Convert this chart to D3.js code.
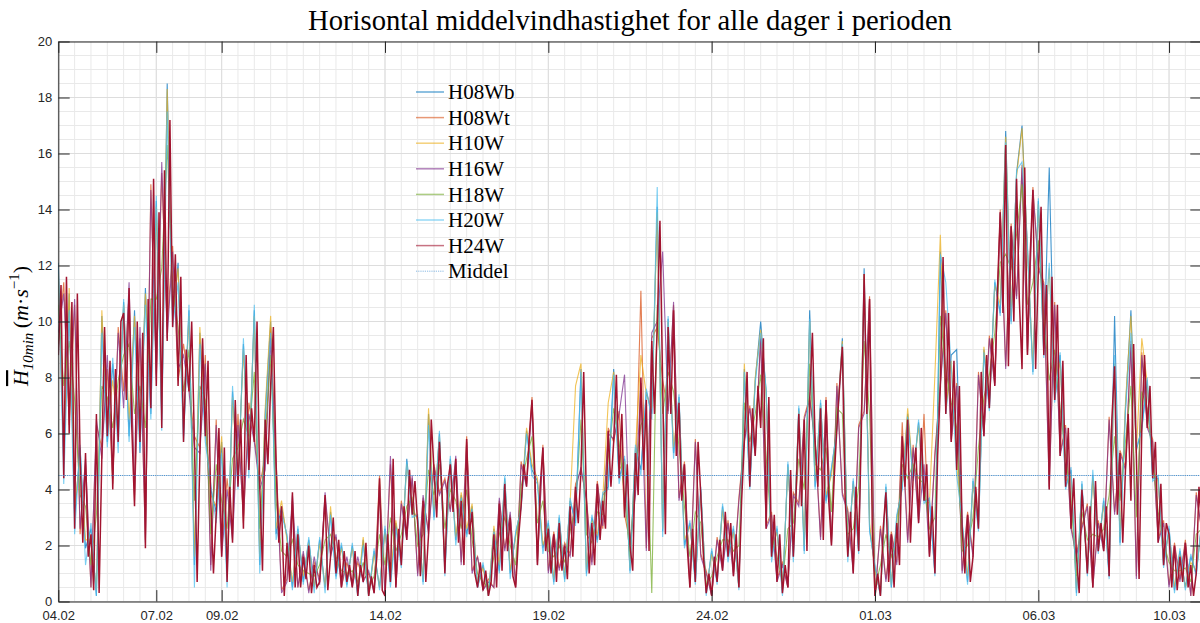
<!DOCTYPE html>
<html>
<head>
<meta charset="utf-8">
<script src="https://cdn.jsdelivr.net/npm/d3@7"></script>
<style>
  body { margin: 0; background: #fff; }
  svg { display: block; }
</style>
</head>
<body>
<svg id="chart" width="1200" height="623"></svg>
<script>
// Period covered by the measurements
const periodStart = Date.UTC(2023, 1, 4);
const periodEnd = Date.UTC(2023, 2, 11);

const xTickLabels = ["04.02", "07.02", "09.02", "14.02", "19.02", "24.02", "01.03", "06.03", "10.03"];
const yTickValues = [0, 2, 4, 6, 8, 10, 12, 14, 16, 18, 20];

const seriesNames = ["H08Wb", "H08Wt", "H10W", "H16W", "H18W", "H20W", "H24W"];
const seriesColors = ["#0072BD", "#D95319", "#EDB120", "#7E2F8E", "#77AC30", "#4DBEEE", "#A2142F"];
const middelValue = 4.5;

// H24W, one value every 2 hours (12 per day)
const h24wStepHours = 2;
const h24w = [
  8.8,11.3,4.4,11.6,6.0,10.7,2.6,11.0,5.2,2.1,5.3,1.6,
  2.4,0.4,6.7,0.3,5.2,9.8,5.9,8.6,4.0,8.3,5.7,10.0,
  10.3,7.2,11.2,6.2,3.4,10.0,5.7,9.6,1.9,10.8,6.9,15.1,
  7.7,13.9,6.2,15.4,9.3,17.2,9.8,12.4,7.7,11.6,5.7,9.0,
  7.5,10.0,5.7,0.7,5.2,9.4,5.9,8.6,3.6,1.0,3.1,6.2,
  1.6,5.5,0.7,4.1,2.1,7.2,4.1,6.5,2.6,8.8,4.7,6.9,
  5.7,10.0,4.1,1.1,6.5,4.9,7.7,9.8,4.9,2.1,3.4,0.2,
  2.1,0.7,3.9,0.5,2.4,0.5,1.6,0.8,2.0,0.3,1.3,0.5,
  0.7,2.0,3.8,0.4,1.6,3.0,1.0,2.2,0.5,1.8,0.7,1.3,
  0.5,1.8,0.2,1.3,0.7,2.1,0.2,0.9,0.3,1.6,4.4,0.4,
  0.2,2.4,0.7,5.1,0.5,2.6,1.3,3.4,2.2,4.7,3.1,4.3,
  2.8,0.9,3.6,0.7,2.4,6.5,4.7,3.0,5.7,3.8,1.0,4.2,
  4.9,3.2,5.1,2.1,3.6,1.3,5.8,2.4,3.2,1.0,0.5,1.4,
  0.4,1.1,0.2,0.7,2.4,0.5,3.5,1.1,4.2,1.8,3.0,0.9,
  0.5,2.2,3.4,4.9,4.1,5.9,7.2,4.7,1.3,4.1,5.5,1.8,
  2.6,1.0,2.4,0.7,2.8,1.1,2.0,0.8,3.4,1.6,4.1,2.8,
  4.7,8.2,3.6,1.0,2.8,1.3,4.2,2.2,3.6,2.6,6.1,4.1,
  5.7,8.1,4.4,6.7,3.0,4.9,2.0,1.1,5.3,3.8,8.0,4.7,
  7.2,1.8,9.3,6.7,9.8,13.6,7.7,2.4,9.8,6.7,10.4,5.2,
  7.1,3.6,4.9,2.0,0.5,2.6,0.7,5.7,3.8,1.6,0.3,1.0,
  0.2,1.6,0.7,2.2,1.1,3.2,1.6,2.8,0.9,2.4,0.5,3.6,
  5.7,8.2,4.1,6.9,5.2,7.7,6.2,9.4,2.6,7.3,1.6,3.1,
  0.7,2.4,0.3,1.3,0.5,4.7,1.6,3.8,6.7,3.4,6.5,1.8,
  7.2,9.6,5.7,4.1,6.9,2.2,7.2,3.6,2.0,4.4,6.2,7.7,
  9.1,3.8,1.6,3.2,1.0,4.1,1.8,6.2,11.7,6.7,10.8,2.6,
  0.2,1.0,0.2,2.6,3.9,0.7,2.4,0.5,2.8,1.3,5.9,4.1,
  6.5,2.1,4.4,5.5,2.8,6.2,3.6,4.9,1.6,3.4,1.0,5.2,
  7.7,12.3,6.7,10.3,5.7,8.6,4.7,7.7,2.6,1.0,3.1,0.7,
  1.6,4.1,2.6,8.2,5.9,8.8,6.9,9.4,7.7,11.2,13.9,10.3,
  16.3,8.4,13.4,10.0,15.1,10.8,8.3,15.5,8.8,12.4,14.7,8.3,
  11.9,14.1,8.8,11.3,4.0,11.6,7.2,10.6,5.2,8.6,4.1,6.2,
  2.6,4.4,1.6,0.3,4.0,2.6,1.0,3.4,0.5,4.3,1.8,2.8,
  1.8,3.4,0.9,6.5,8.4,3.1,5.3,2.1,4.7,6.7,3.6,9.2,
  5.2,0.8,6.2,8.8,6.2,7.7,4.4,5.7,2.1,4.2,1.3,2.8,
  2.4,0.5,2.0,0.4,1.6,0.7,2.1,0.5,1.3,0.2,1.0,4.1,
  2.6
];

// The other heights, one value every 4 hours (6 per day)
const otherStepHours = 4;
const h08wb = [
  12.1,4.9,11.0,3.0,5.5,1.9,  2.6,0.2,10.2,5.7,8.5,5.9,  10.7,5.9,10.4,5.3,11.2,6.7,
  14.3,6.5,18.5,10.0,12.1,5.9,  10.4,1.3,9.6,6.1,4.0,3.2,  5.7,0.9,7.5,4.2,9.2,4.7,
  10.4,1.3,6.7,10.0,2.4,3.4,  2.3,0.5,2.6,0.7,2.2,0.5,  2.2,0.5,3.2,0.9,2.0,0.6,
  2.0,0.2,2.2,0.2,1.8,0.5,  2.6,0.7,2.8,1.4,5.1,3.2,  3.0,0.7,6.7,3.0,6.0,1.1,
  5.1,2.2,3.8,2.4,3.4,0.5,  1.3,0.2,2.6,1.1,4.4,1.0,  2.4,3.4,6.1,4.7,4.3,1.9,
  2.8,0.7,3.0,0.8,3.6,2.8,  8.3,1.0,3.0,2.2,3.8,4.1,  8.3,4.4,5.1,1.1,5.5,4.7,
  7.5,6.7,14.1,2.5,10.1,5.3,  7.3,2.0,2.8,0.7,4.0,0.3,  1.8,0.7,3.4,1.6,2.6,0.5,
  8.3,4.1,7.9,10.0,7.5,1.6,  2.6,0.3,4.9,1.6,6.9,1.8,  10.4,4.1,7.1,3.6,4.7,6.2,
  9.4,1.6,4.3,1.8,11.9,2.6,  1.2,0.2,4.1,0.5,3.0,4.1,  6.7,4.4,6.4,3.6,3.6,1.0,
  12.5,6.7,8.8,9.0,2.8,0.7,  4.3,2.6,9.0,6.9,11.4,10.3,  16.8,10.0,15.3,17.0,12.6,8.2,
  14.3,8.8,15.5,7.2,8.8,4.1,  4.7,0.3,4.2,1.0,4.5,1.8,  3.6,0.9,10.2,2.1,6.9,10.4,
  5.4,6.2,7.9,4.4,4.4,1.3,  2.6,0.4,1.8,0.5,1.6,1.0,
  2.8
];
const h08wt = [
  9.2,11.4,6.3,10.6,2.4,4.9,  0.5,6.3,5.5,8.3,4.2,9.8,  7.5,11.0,3.6,9.4,2.2,14.9,
  8.1,15.3,9.8,12.7,7.9,9.2,  7.7,5.9,5.5,8.8,1.3,6.5,  1.8,4.4,2.4,6.7,2.8,7.1,
  5.9,4.2,5.1,9.8,5.1,0.4,  0.8,3.6,0.5,1.7,0.4,1.4,  0.8,3.7,1.7,2.3,0.5,1.4,
  0.6,1.4,0.8,1.0,0.4,4.5,  0.3,4.9,0.6,3.6,2.3,4.4,  1.0,3.7,2.5,4.9,3.9,4.4,
  3.3,5.0,1.4,5.9,1.1,1.6,  0.4,0.8,0.5,3.6,1.9,3.1,  0.6,5.0,4.2,7.3,1.4,5.6,
  1.1,2.5,1.2,2.1,1.7,4.2,  4.7,3.7,1.4,4.3,2.6,6.2,  5.7,6.8,3.1,2.1,3.9,11.1,
  1.9,9.4,9.8,7.9,6.8,10.6,  3.7,5.0,0.5,5.8,1.7,1.1,  0.2,2.3,1.2,2.9,1.0,3.7,
  5.8,7.0,5.3,9.5,2.7,3.2,  0.8,1.4,0.5,3.9,3.5,6.6,  7.3,5.8,2.3,7.3,2.1,7.8,
  3.9,3.3,1.1,6.3,6.8,10.9,  0.2,2.7,0.8,2.5,1.4,6.4,  2.2,5.6,2.9,6.7,1.7,5.3,
  7.8,10.4,5.8,7.8,1.1,3.2,  1.7,8.2,6.0,9.5,7.8,14.0,  8.4,13.5,10.9,15.6,8.9,14.8,
  12.0,11.4,4.1,10.7,5.3,6.3,  2.7,1.7,2.7,3.5,0.5,2.9,  1.9,6.6,3.2,5.4,4.8,9.3,
  0.9,8.9,6.3,5.8,2.2,2.9,  0.6,2.1,0.8,2.2,0.2,3.9,
  2.5
];
const h10w = [
  11.7,5.3,11.2,3.4,5.1,2.2,  2.2,0.4,10.4,6.1,7.9,6.2,  10.6,6.5,10.2,5.9,11.0,7.3,
  14.1,6.7,18.3,10.2,11.9,6.2,  10.2,1.6,9.8,6.3,3.8,3.4,  5.9,1.1,7.3,4.4,9.0,5.1,
  10.2,1.6,6.9,10.2,2.6,3.6,  2.2,0.7,2.5,0.9,2.1,0.5,  2.1,0.5,3.4,1.1,1.9,0.8,
  1.9,0.4,2.3,0.2,1.7,0.5,  2.5,0.9,2.9,1.6,4.9,3.4,  2.9,0.8,6.9,3.2,5.9,1.3,
  5.0,2.3,3.9,2.6,3.5,0.6,  1.2,0.2,2.7,1.3,4.3,1.1,  2.3,3.5,6.2,4.9,4.4,2.0,
  2.7,0.8,2.9,0.9,3.5,7.7,  8.5,1.1,2.9,2.4,3.7,7.1,  8.2,4.7,5.0,1.2,5.4,8.8,
  7.4,6.9,13.9,2.6,10.0,5.5,  7.2,2.2,2.7,0.9,3.9,0.4,  1.7,0.8,3.3,1.7,2.5,0.5,
  8.5,4.3,8.0,9.7,7.4,1.8,  2.5,0.4,4.8,1.8,6.8,2.0,  10.0,4.3,7.0,3.8,4.5,6.3,
  9.3,1.7,4.2,2.0,11.7,2.8,  1.1,0.3,4.0,0.6,2.9,4.2,  6.9,4.5,6.3,3.7,3.5,8.1,
  13.1,6.9,8.6,4.9,2.7,0.9,  4.2,2.8,9.1,7.1,11.3,10.6,  16.6,10.2,15.2,16.9,12.5,8.4,
  14.2,9.0,11.9,7.4,8.6,4.3,  4.5,0.4,4.1,1.1,4.4,1.9,  3.5,1.1,8.5,2.3,7.1,10.2,
  5.3,9.4,7.8,4.7,4.3,1.4,  2.5,0.5,1.7,0.5,1.4,1.1,
  2.7
];
const h16w = [
  9.6,11.0,6.7,10.8,2.6,5.1,  0.5,6.5,5.1,8.8,4.4,9.6,  6.9,11.4,3.8,9.8,2.1,14.7,
  7.9,15.7,9.4,12.5,8.3,8.8,  7.5,5.5,5.3,8.5,1.1,6.3,  1.6,4.0,2.2,6.3,3.0,6.7,
  5.7,4.0,4.7,9.4,4.7,0.3,  0.7,3.8,0.5,1.8,0.3,1.6,  0.6,3.9,1.6,2.4,0.5,1.6,
  0.5,1.6,0.7,1.1,0.3,4.2,  0.2,5.2,0.5,3.5,2.2,4.5,  0.9,3.8,2.4,4.8,3.8,4.3,
  3.2,5.2,1.3,5.7,1.0,1.6,  0.4,0.7,0.5,3.7,1.8,3.2,  0.5,4.9,4.1,7.1,1.3,5.5,
  1.0,2.4,1.1,2.0,1.6,4.0,  4.8,3.6,1.3,4.2,2.7,6.0,  5.8,6.7,8.1,2.0,3.8,7.8,
  1.8,9.6,10.0,12.5,6.7,10.7,  3.6,4.9,0.5,5.7,1.6,1.0,  0.2,2.2,1.1,2.8,0.9,3.6,
  5.7,6.9,5.2,9.4,2.6,3.1,  0.7,1.3,0.5,3.8,3.4,6.5,  7.2,5.7,2.2,7.2,2.0,7.7,
  3.8,3.2,1.0,6.2,6.7,10.8,  0.2,2.6,0.7,2.4,1.3,5.9,  2.1,5.5,2.8,4.9,1.6,5.2,
  7.7,10.3,5.7,7.7,1.0,3.1,  1.6,8.1,5.9,9.4,7.7,13.9,  8.3,13.4,10.8,15.5,8.8,14.7,
  11.9,11.3,4.0,10.6,5.2,6.2,  2.6,1.6,2.6,3.4,0.5,2.8,  1.8,6.5,3.1,5.3,4.7,9.2,
  0.8,8.8,6.2,5.7,2.1,2.8,  0.5,2.0,0.7,2.1,0.2,3.8,
  2.6
];
const h18w = [
  10.6,7.7,9.3,7.2,3.8,3.4,  1.3,3.1,7.7,7.3,6.2,7.9,  8.8,9.2,6.7,7.7,6.2,10.8,
  10.8,11.9,16.3,11.3,9.8,7.5,  9.0,3.6,7.7,7.2,2.4,4.9,  3.6,2.6,5.1,5.5,6.5,5.9,
  8.2,2.6,5.9,8.8,3.6,1.8,  1.6,2.2,1.3,1.1,1.0,0.9,  1.3,2.2,2.4,1.6,1.1,1.0,
  1.1,0.7,1.4,0.5,0.9,2.4,  1.3,3.0,1.8,2.4,3.4,3.7,  2.0,2.4,4.7,3.8,4.9,2.6,
  4.0,3.6,2.6,4.0,2.2,1.0,  0.7,0.5,1.6,2.4,3.0,2.0,  1.3,4.1,5.1,5.9,2.8,3.6,
  1.8,1.6,2.0,1.4,2.5,3.4,  6.5,2.4,2.1,3.2,3.1,5.1,  6.9,5.7,3.8,1.6,4.7,6.3,
  6.7,0.3,10.6,6.7,8.2,7.5,  5.5,3.4,1.6,3.2,2.8,0.6,  0.9,1.6,2.2,2.2,1.8,2.0,
  7.1,5.7,6.7,8.1,5.2,2.4,  1.6,0.7,2.6,2.8,5.1,4.0,  8.5,4.9,4.7,5.5,3.2,6.9,
  6.7,2.4,2.6,4.1,9.3,6.7,  0.5,1.3,2.4,1.6,2.2,4.9,  4.4,4.9,4.4,4.2,2.6,3.0,
  10.2,8.3,7.1,6.2,1.8,2.0,  3.0,5.5,7.3,8.1,9.6,12.1,  12.4,11.9,13.1,14.9,10.6,11.4,
  12.9,10.2,7.9,9.0,6.9,5.2,  3.6,0.9,3.2,2.2,2.4,2.3,  2.6,3.8,5.9,3.6,5.7,7.7,
  3.0,7.5,6.9,5.1,3.2,2.1,  1.4,1.1,1.1,1.2,0.7,2.4,
  2.6
];
const h20w = [
  11.9,4.2,10.4,2.4,5.6,1.3,  2.8,0.2,9.6,5.5,8.7,5.3,  10.8,5.7,9.8,5.5,10.6,6.5,
  14.5,6.1,17.5,9.8,11.4,5.7,  10.6,0.5,9.2,5.7,4.2,2.8,  5.3,0.5,7.7,4.0,9.4,4.4,
  10.6,1.0,6.5,9.6,2.2,3.1,  2.4,0.4,2.7,0.6,2.3,0.3,  2.3,0.3,3.1,0.8,2.1,0.5,
  2.1,0.2,2.0,0.2,1.9,0.4,  2.7,0.5,2.6,1.2,5.0,3.0,  3.1,0.6,6.3,2.9,6.1,0.9,
  5.2,2.0,3.7,2.3,3.3,0.5,  1.4,0.2,2.5,1.0,4.5,0.8,  2.5,3.3,6.0,4.5,4.2,1.7,
  2.9,0.6,3.1,0.7,3.7,2.7,  8.2,0.9,3.1,2.1,3.9,4.0,  8.1,4.2,5.2,1.0,5.6,4.5,
  7.6,6.5,14.8,2.3,10.2,5.1,  7.4,1.9,2.9,0.6,4.1,0.2,  1.9,0.6,3.5,1.4,2.7,0.4,
  8.2,4.0,7.8,9.6,7.6,1.4,  2.7,0.2,5.0,1.4,7.0,1.7,  10.1,4.0,7.2,3.5,4.8,6.1,
  9.2,1.4,4.4,1.7,11.4,2.5,  1.3,0.2,4.2,0.5,3.1,4.0,  6.6,4.3,6.5,3.5,3.7,0.9,
  12.4,11.4,8.4,4.5,2.9,0.6,  4.4,2.5,8.9,6.8,11.5,10.2,  16.4,9.9,15.4,15.7,12.7,8.1,
  14.4,8.7,12.1,7.1,8.9,4.0,  4.8,0.2,4.3,0.9,4.7,1.7,  3.7,0.8,8.8,2.0,6.8,9.6,
  5.5,6.1,8.0,4.3,4.5,1.2,  2.7,0.3,1.9,0.4,1.7,0.9,
  2.9
];

const seriesValues = [h08wb, h08wt, h10w, h16w, h18w, h20w, h24w];
const seriesSteps = [otherStepHours, otherStepHours, otherStepHours, otherStepHours, otherStepHours, otherStepHours, h24wStepHours];

const svg = d3.select("#chart");
const plot = { left: 58.3, right: 1201.7, top: 41.5, bottom: 601.5 };

const x = d3.scaleUtc().domain([periodStart, periodEnd]).range([plot.left, plot.right]);
const y = d3.scaleLinear().domain([0, 20]).range([plot.bottom, plot.top]);

svg.append("rect").attr("width", 1200).attr("height", 623).attr("fill", "#fff");

// Grid: minor lines every 12 h and every 0.5 m/s, major at the labelled ticks
const grid = svg.append("g");
const minorX = d3.utcHour.every(12).range(new Date(periodStart), new Date(periodEnd));
grid.selectAll("line.mx").data(minorX).join("line")
  .attr("x1", d => x(d)).attr("x2", d => x(d))
  .attr("y1", plot.top).attr("y2", plot.bottom)
  .attr("stroke", "#e9e9e9").attr("stroke-width", 1);
grid.selectAll("line.my").data(d3.range(0.5, 20, 0.5)).join("line")
  .attr("x1", plot.left).attr("x2", plot.right)
  .attr("y1", d => y(d)).attr("y2", d => y(d))
  .attr("stroke", "#e9e9e9").attr("stroke-width", 1);

const parseTick = d3.utcParse("%d.%m.%Y");
const xTickDates = xTickLabels.map(s => parseTick(s + ".2023"));
grid.selectAll("line.gx").data(xTickDates).join("line")
  .attr("x1", d => x(d)).attr("x2", d => x(d))
  .attr("y1", plot.top).attr("y2", plot.bottom)
  .attr("stroke", "#dddddd").attr("stroke-width", 1);
grid.selectAll("line.gy").data(yTickValues).join("line")
  .attr("x1", plot.left).attr("x2", plot.right)
  .attr("y1", d => y(d)).attr("y2", d => y(d))
  .attr("stroke", "#dddddd").attr("stroke-width", 1);

// Data
svg.append("clipPath").attr("id", "plotClip").append("rect")
  .attr("x", plot.left).attr("y", plot.top)
  .attr("width", plot.right - plot.left).attr("height", plot.bottom - plot.top);

const line = d3.line().x(d => x(d[0])).y(d => y(d[1]));
const dataLayer = svg.append("g").attr("clip-path", "url(#plotClip)");
seriesValues.forEach((vals, i) => {
  const step = seriesSteps[i] * 3600e3;
  const pts = vals.map((v, k) => [periodStart + k * step, v]);
  const isTop = i === 6;
  dataLayer.append("path")
    .attr("d", line(pts))
    .attr("fill", "none")
    .attr("stroke", seriesColors[i])
    .attr("stroke-width", isTop ? 1.5 : 1.1)
    .attr("stroke-opacity", isTop ? 1 : 0.75)
    .attr("stroke-linejoin", "miter");
});
dataLayer.append("line")
  .attr("x1", plot.left).attr("x2", plot.right)
  .attr("y1", y(middelValue)).attr("y2", y(middelValue))
  .attr("stroke", "#3b8bd0").attr("stroke-width", 1)
  .attr("stroke-dasharray", "1.2,1").attr("stroke-opacity", 0.9);

// Axes (ticks pointing inwards, box on)
const tickLen = 11.4;
const axisColor = "#262626";
const styleAxis = g => {
  g.selectAll(".domain").attr("stroke", axisColor).attr("stroke-width", 1);
  g.selectAll(".tick line").attr("stroke", axisColor).attr("stroke-width", 1);
  g.selectAll("text").attr("fill", axisColor)
    .style("font-family", "'Liberation Sans', Arial, sans-serif").style("font-size", "13px");
};
svg.append("g").attr("transform", `translate(0,${plot.bottom})`)
  .call(d3.axisBottom(x).tickValues(xTickDates).tickFormat(d3.utcFormat("%d.%m"))
    .tickSizeInner(-tickLen).tickSizeOuter(0).tickPadding(9))
  .call(styleAxis);
svg.append("g").attr("transform", `translate(0,${plot.top})`)
  .call(d3.axisTop(x).tickValues(xTickDates).tickFormat("")
    .tickSizeInner(-tickLen).tickSizeOuter(0))
  .call(styleAxis);
svg.append("g").attr("transform", `translate(${plot.left},0)`)
  .call(d3.axisLeft(y).tickValues(yTickValues).tickFormat(d3.format("d"))
    .tickSizeInner(-tickLen).tickSizeOuter(0).tickPadding(6))
  .call(styleAxis);
svg.append("g").attr("transform", `translate(${plot.right},0)`)
  .call(d3.axisRight(y).tickValues(yTickValues).tickFormat("")
    .tickSizeInner(-tickLen).tickSizeOuter(0))
  .call(styleAxis);

// Title
const title = svg.append("text")
  .attr("x", (plot.left + plot.right) / 2).attr("y", 30)
  .attr("text-anchor", "middle")
  .style("font-family", "'Liberation Serif', 'Times New Roman', serif")
  .style("font-size", "25px").attr("fill", "#000")
  .text("Horisontal middelvindhastighet for alle dager i perioden");
const tw = title.node().getComputedTextLength();
title.style("font-size", (25 * 644 / tw).toFixed(2) + "px");

// Y axis label
const yl = svg.append("text")
  .attr("transform", "translate(28,326) rotate(-90)")
  .attr("text-anchor", "middle")
  .style("font-family", "'Liberation Serif', 'Times New Roman', serif")
  .style("font-size", "22px").attr("fill", "#000");
yl.append("tspan").style("font-style", "italic").style("text-decoration", "overline").text("H");
yl.append("tspan").attr("dy", 5).style("font-style", "italic").style("font-size", "15px").text("10min");
yl.append("tspan").attr("dy", -5).text("\u2009(");
yl.append("tspan").style("font-style", "italic").text("m");
yl.append("tspan").text("\u00b7");
yl.append("tspan").style("font-style", "italic").text("s");
yl.append("tspan").attr("dy", -9).style("font-size", "15px").text("\u22121");
yl.append("tspan").attr("dy", 9).text(")");

// Legend (no box)
const legendNames = seriesNames.concat(["Middel"]);
const legend = svg.append("g");
legendNames.forEach((name, i) => {
  const cy = 92 + i * 25.6;
  const isMean = i === 7;
  legend.append("line")
    .attr("x1", 416).attr("x2", 444).attr("y1", cy).attr("y2", cy)
    .attr("stroke", isMean ? "#3b8bd0" : seriesColors[i])
    .attr("stroke-width", isMean ? 1 : 1.5)
    .attr("stroke-opacity", 0.6)
    .attr("stroke-dasharray", isMean ? "1.2,1" : null);
  legend.append("text")
    .attr("x", 448).attr("y", cy).attr("dy", "0.34em")
    .style("font-family", "'Liberation Serif', 'Times New Roman', serif")
    .style("font-size", "21px").attr("fill", "#000")
    .text(name);
});
</script>
</body>
</html>
